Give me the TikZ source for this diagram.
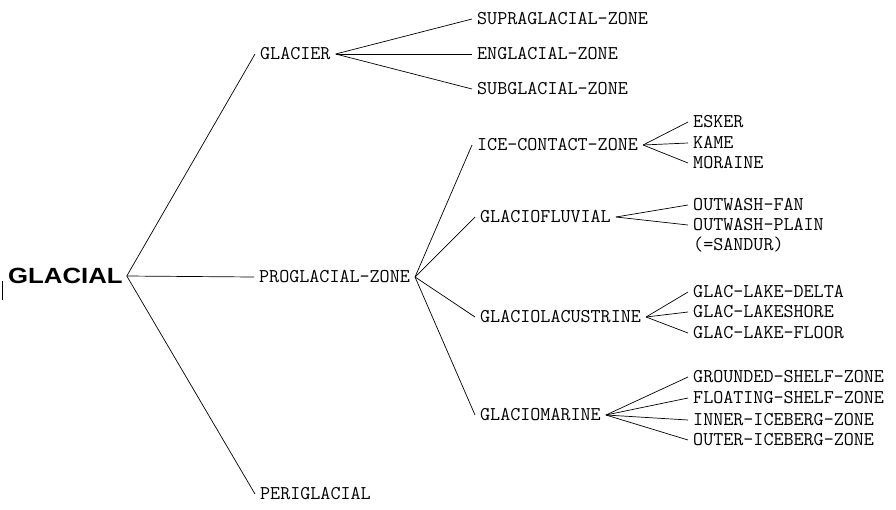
\documentclass[tikz,border=0pt]{standalone}
\usepackage{fontspec}
\newfontfamily\rootfont{Liberation Sans}[FakeStretch=1.17]
\begin{document}
\begin{tikzpicture}[x=1pt,y=-1pt,
  lbl/.style={font=\ttfamily\fontsize{19.5}{20}\selectfont, anchor=west, inner xsep=5pt, inner ysep=0pt, text height=11.9pt, text depth=0pt},
  rootlbl/.style={font=\rootfont\bfseries\fontsize{22}{24}\selectfont, anchor=west, inner xsep=4pt, inner ysep=0pt, text height=15.7pt, text depth=0pt},
  edge/.style={line width=0.7pt, black}]
\useasboundingbox (0,0) rectangle (896,509);
% stray mark at left edge
\draw[line width=0.8pt] (2.5,281) -- (2.5,300);
% root
\node[rootlbl] (root) at (4,276) {GLACIAL};
% level 1
\node[lbl] (glacier) at (255,54) {GLACIER};
\node[lbl] (pro) at (254,277) {PROGLACIAL-ZONE};
\node[lbl] (peri) at (255,494) {PERIGLACIAL};
% glacier children
\node[lbl] (supra) at (472,19) {SUPRAGLACIAL-ZONE};
\node[lbl] (eng) at (472,54) {ENGLACIAL-ZONE};
\node[lbl] (sub) at (472,89) {SUBGLACIAL-ZONE};
% proglacial children
\node[lbl] (ice) at (472,145) {ICE-CONTACT-ZONE};
\node[lbl] (fluv) at (475,217) {GLACIOFLUVIAL};
\node[lbl] (lac) at (475,317) {GLACIOLACUSTRINE};
\node[lbl] (mar) at (475,415) {GLACIOMARINE};
% ice-contact children
\node[lbl] (esker) at (688,122) {ESKER};
\node[lbl] (kame) at (688,143) {KAME};
\node[lbl] (mor) at (688,163) {MORAINE};
% glaciofluvial children
\node[lbl] (fan) at (688,205) {OUTWASH-FAN};
\node[lbl] (plain) at (688,225) {OUTWASH-PLAIN};
\node[lbl] (sandur) at (688,245) {(=SANDUR)};
% glaciolacustrine children
\node[lbl] (delta) at (688,292) {GLAC-LAKE-DELTA};
\node[lbl] (shore) at (688,312) {GLAC-LAKESHORE};
\node[lbl] (floor) at (688,333) {GLAC-LAKE-FLOOR};
% glaciomarine children
\node[lbl] (ground) at (688,377) {GROUNDED-SHELF-ZONE};
\node[lbl] (float) at (688,398) {FLOATING-SHELF-ZONE};
\node[lbl] (inner) at (688,420) {INNER-ICEBERG-ZONE};
\node[lbl] (outer) at (688,440) {OUTER-ICEBERG-ZONE};
% connectors
\draw[edge] (root.east) -- (glacier.west);
\draw[edge] (root.east) -- (pro.west);
\draw[edge] (root.east) -- (peri.west);
\foreach \c in {supra,eng,sub} \draw[edge] (glacier.east) -- (\c.west);
\foreach \c in {ice,fluv,lac,mar} \draw[edge] (pro.east) -- (\c.west);
\foreach \c in {esker,kame,mor} \draw[edge] (ice.east) -- (\c.west);
\foreach \c in {fan,plain} \draw[edge] (fluv.east) -- (\c.west);
\foreach \c in {delta,shore,floor} \draw[edge] (lac.east) -- (\c.west);
\foreach \c in {ground,float,inner,outer} \draw[edge] (mar.east) -- (\c.west);
\end{tikzpicture}
\end{document}
